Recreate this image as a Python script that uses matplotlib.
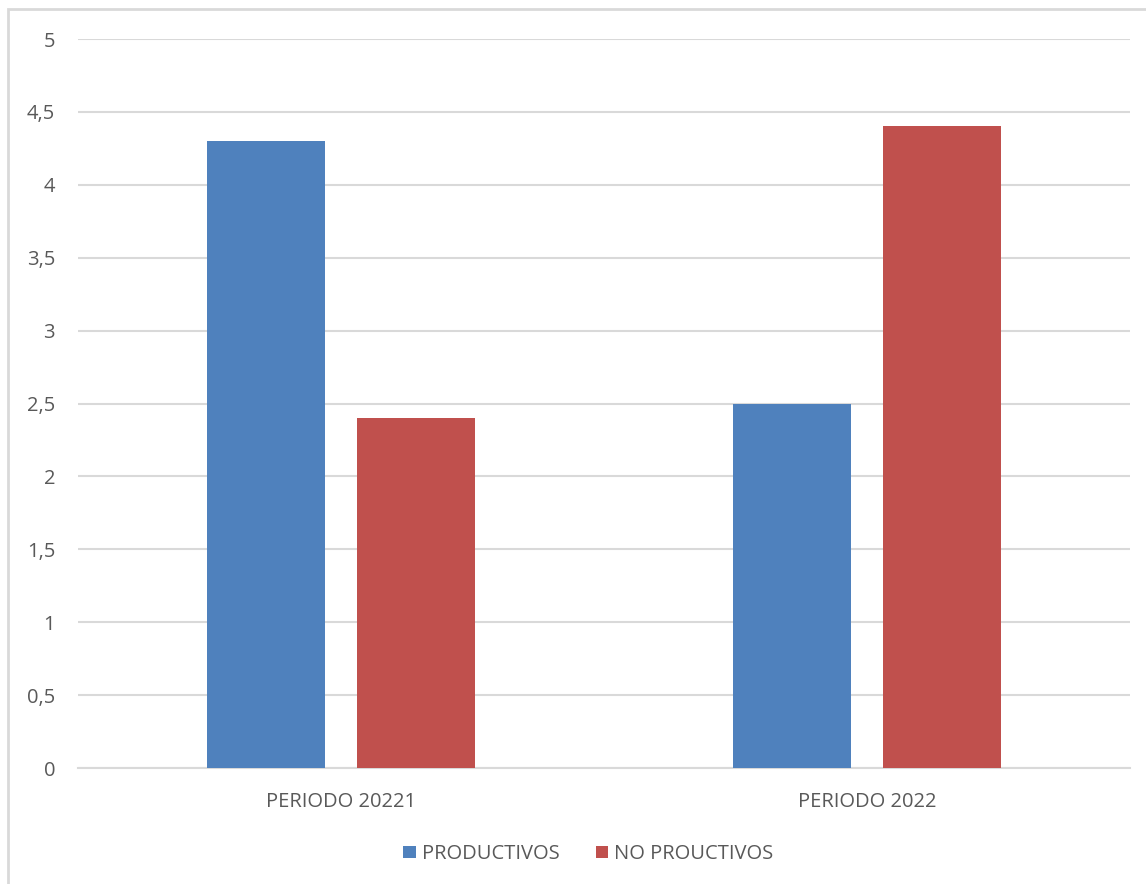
import matplotlib.pyplot as plt
from matplotlib.patches import Rectangle
from matplotlib.ticker import FuncFormatter
import numpy as np

categories = ["PERIODO 20221", "PERIODO 2022"]
productivos = [4.3, 2.5]
no_productivos = [2.4, 4.4]
series_names = ["PRODUCTIVOS", "NO PROUCTIVOS"]
yticks = [0, 0.5, 1, 1.5, 2, 2.5, 3, 3.5, 4, 4.5, 5]

plt.rcParams['font.family'] = ['Open Sans', 'DejaVu Sans']

fig = plt.figure(figsize=(11.46, 8.84), dpi=100)
ax = fig.add_axes([78 / 1146, 1 - 768 / 884, (1130 - 78) / 1146, (768 - 39) / 884])

# outer chart frame (only top/left visible in reference)
fig.patches.append(Rectangle((8 / 1146, -0.1), 1.2, 1 - 9 / 884 + 0.1,
                             transform=fig.transFigure, fill=False,
                             edgecolor="#d9d9d9", linewidth=2, zorder=0))

x = np.arange(len(categories))
w = 0.224
off = w / 2 + 0.0305
ax.bar(x - off, productivos, w, color="#4f81bd", label=series_names[0], zorder=3)
ax.bar(x + off, no_productivos, w, color="#c0504d", label=series_names[1], zorder=3)

ax.set_xlim(-0.5, 1.5)
ax.set_ylim(0, 5)
ax.set_yticks(yticks)
ax.yaxis.set_major_formatter(FuncFormatter(lambda v, p: f"{v:g}".replace(".", ",")))
ax.set_xticks(x)
ax.set_xticklabels(categories)

ax.grid(axis="y", color="#d9d9d9", linewidth=1.5, zorder=0)
for s in ["top", "right", "left"]:
    ax.spines[s].set_visible(False)
ax.spines["bottom"].set_color("#d9d9d9")
ax.spines["bottom"].set_linewidth(1.5)
ax.tick_params(axis="both", length=0, colors="#595959", labelsize=14.5)
ax.tick_params(axis="y", pad=16.5)
ax.tick_params(axis="x", pad=17)

ax.legend(loc="center", bbox_to_anchor=(0.485, -0.118), ncol=2, frameon=False,
          fontsize=14.5, labelcolor="#595959", handlelength=0.6, handleheight=0.6,
          columnspacing=1.8, handletextpad=0.3)

fig.savefig("out.png", dpi=100)
